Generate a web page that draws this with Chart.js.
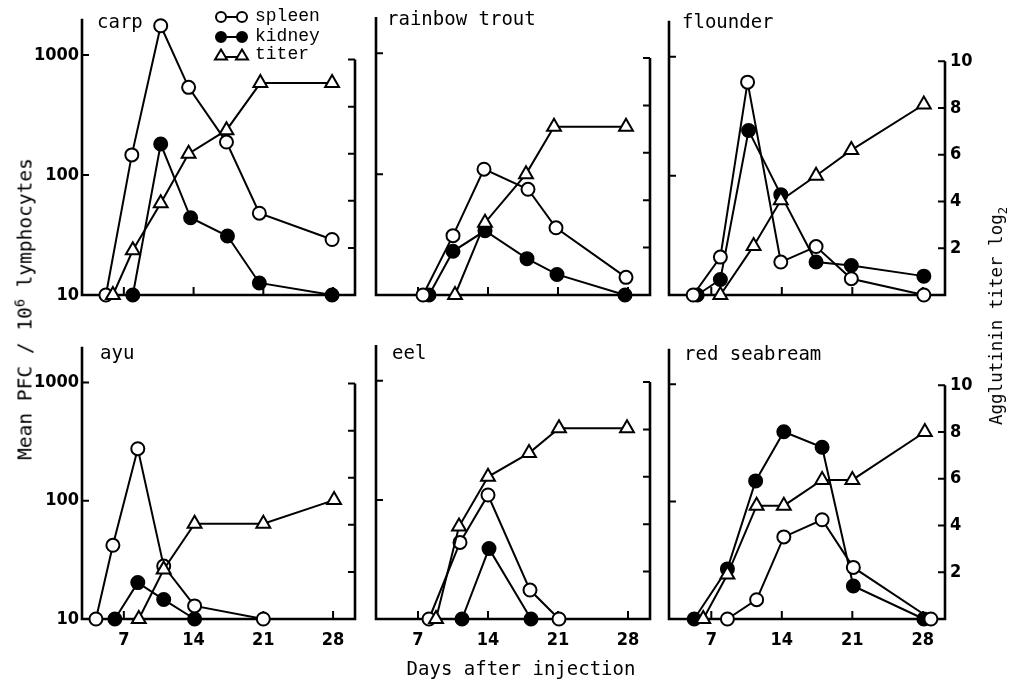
<!DOCTYPE html>
<html>
<head>
<meta charset="utf-8">
<script src="https://cdn.jsdelivr.net/npm/chart.js@4/dist/chart.umd.min.js"></script>
<style>
  html, body { margin: 0; padding: 0; background: #fff; }
  #wrap { position: relative; width: 1013px; height: 686px; overflow: hidden; background: #fff; }
  canvas { position: absolute; }
  .txt { position: absolute; white-space: nowrap; color: #000; font-family: 'DejaVu Sans Mono', monospace; }
  .ptitle { font-size: 19px; line-height: 20px; }
  .leg { font-family: 'Liberation Mono', 'DejaVu Sans Mono', monospace; font-size: 18px; line-height: 20px; }
  .vt { transform: translate(-50%, -50%) rotate(-90deg); transform-origin: 50% 50%; }
  sup, sub { font-size: 70%; line-height: 0; }
</style>
</head>
<body>
<div id="wrap"></div>
<script>
// ---------- data ----------
const DAY_TICKS = [7, 14, 21, 28];
const PFC_TICKS = [10, 100, 1000];
const TITER_TICKS = [2, 4, 6, 8, 10];
const PANEL_NAMES = ['carp', 'rainbow trout', 'flounder', 'ayu', 'eel', 'red seabream'];
const SERIES_NAMES = ['spleen', 'kidney', 'titer'];
const X_TITLE = 'Days after injection';

// [day, PFC per 10^6 lymphocytes]  /  [day, titer log2]
const carpSpleen = [[5.2,10],[7.8,147],[10.7,1750],[13.5,537],[17.3,188],[20.6,48],[27.9,29]];
const carpKidney = [[7.9,10],[10.7,181],[13.7,44],[17.4,31],[20.6,12.6],[27.9,10]];
const carpTiter  = [[5.9,0],[7.9,1.9],[10.7,3.9],[13.5,6.0],[17.3,7.0],[20.7,9.0],[27.9,9.0]];

const troutSpleen = [[7.5,10],[10.5,31],[13.6,110],[18.0,75],[20.8,36],[27.8,14]];
const troutKidney = [[8.1,10],[10.5,23],[13.7,34],[17.9,20],[20.9,14.8],[27.7,10]];
const troutTiter  = [[10.7,0],[13.7,3.05],[17.8,5.1],[20.6,7.1],[27.8,7.1]];

const flounderSpleen = [[5.2,10],[7.9,20.8],[10.6,611],[13.9,18.9],[17.4,25.5],[20.9,13.7],[28.1,10]];
const flounderKidney = [[5.6,10],[7.9,13.5],[10.7,240],[13.9,69.5],[17.4,18.9],[20.9,17.7],[28.1,14.4]];
const flounderTiter  = [[7.9,0],[11.2,2.1],[13.9,4.05],[17.4,5.1],[20.9,6.2],[28.1,8.15]];

const ayuSpleen = [[4.2,10],[5.9,42],[8.4,275],[11.0,28],[14.1,12.9],[21.0,10]];
const ayuKidney = [[6.1,10],[8.4,20.3],[11.0,14.6],[14.1,10]];
const ayuTiter  = [[8.5,0],[11.0,2.1],[14.1,4.05],[21.0,4.05],[28.1,5.05]];

const eelSpleen = [[8.1,10],[11.2,44],[14.0,110],[18.2,17.5],[21.1,10]];
const eelKidney = [[11.4,10],[14.1,39],[18.3,10]];
const eelTiter  = [[8.8,0],[11.1,3.9],[14.0,6.0],[18.1,7.0],[21.1,8.05],[27.9,8.05]];

const seabreamSpleen = [[8.6,10],[11.5,14.6],[14.2,50],[18.0,70],[21.1,27.5],[28.8,10]];
const seabreamKidney = [[5.3,10],[8.6,26.7],[11.4,150],[14.2,393],[18.0,290],[21.1,19.1],[28.1,10]];
const seabreamTiter  = [[6.2,0],[8.6,1.9],[11.5,4.85],[14.2,4.85],[18.0,5.95],[21.0,5.95],[28.2,8.0]];

// ---------- layout ----------
const COLS = [{l: 82, r: 355}, {l: 376, r: 650}, {l: 669, r: 945}];
const ROWS = [{t: 17, b: 295, y2max: 11.73}, {t: 345, b: 619, y2max: 11.56}];
const PAD_L = 70, PAD_R = 60, PAD_T = 12, PAD_B = 50;
const X_MIN = 2.8, X_MAX = 30.2, Y_MIN = 10, Y_MAX = 2000;

const panels = [
  {row: 0, col: 0, spleen: carpSpleen, kidney: carpKidney, titer: carpTiter},
  {row: 0, col: 1, spleen: troutSpleen, kidney: troutKidney, titer: troutTiter},
  {row: 0, col: 2, spleen: flounderSpleen, kidney: flounderKidney, titer: flounderTiter},
  {row: 1, col: 0, spleen: ayuSpleen, kidney: ayuKidney, titer: ayuTiter},
  {row: 1, col: 1, spleen: eelSpleen, kidney: eelKidney, titer: eelTiter},
  {row: 1, col: 2, spleen: seabreamSpleen, kidney: seabreamKidney, titer: seabreamTiter}
];

const TICK_FONT = {family: "'Liberation Sans Narrow', 'DejaVu Sans Condensed', 'Arial Narrow', sans-serif", size: 18, weight: 'bold'};

const framePlugin = {
  id: 'frame',
  beforeDatasetsDraw(chart) {
    const {ctx, chartArea: a, scales: {x, y, y2}} = chart;
    ctx.save();
    ctx.strokeStyle = '#000';
    ctx.lineJoin = 'miter';
    ctx.lineWidth = 2.6;
    ctx.beginPath();
    ctx.moveTo(a.left, a.top);
    ctx.lineTo(a.left, a.bottom);
    ctx.lineTo(a.right, a.bottom);
    ctx.lineTo(a.right, y2.getPixelForValue(10));
    ctx.stroke();
    ctx.lineWidth = 2;
    ctx.beginPath();
    PFC_TICKS.slice(1).forEach(v => { const p = y.getPixelForValue(v); ctx.moveTo(a.left, p); ctx.lineTo(a.left + 7, p); });
    TITER_TICKS.forEach(v => { const p = y2.getPixelForValue(v); ctx.moveTo(a.right, p); ctx.lineTo(a.right - 7, p); });
    DAY_TICKS.forEach(v => { const p = x.getPixelForValue(v); ctx.moveTo(p, a.bottom); ctx.lineTo(p, a.bottom - 8); });
    ctx.stroke();
    ctx.restore();
  }
};

const wrap = document.getElementById('wrap');

function toXY(arr) { return arr.map(([d, v]) => ({x: d, y: v})); }

panels.forEach((p, i) => {
  const C = COLS[p.col], R = ROWS[p.row];
  const w = (C.r - C.l) + PAD_L + PAD_R;
  const h = (R.b - R.t) + PAD_T + PAD_B;
  const cv = document.createElement('canvas');
  cv.width = w; cv.height = h;
  cv.style.left = (C.l - PAD_L) + 'px';
  cv.style.top = (R.t - PAD_T) + 'px';
  cv.style.width = w + 'px'; cv.style.height = h + 'px';
  wrap.appendChild(cv);

  const common = {showLine: true, borderColor: '#000', borderWidth: 2, tension: 0, clip: false,
                  pointBorderColor: '#000', pointBorderWidth: 2};
  new Chart(cv.getContext('2d'), {
    type: 'scatter',
    data: {
      datasets: [
        Object.assign({label: SERIES_NAMES[2], data: toXY(p.titer), yAxisID: 'y2',
          pointStyle: 'triangle', pointRadius: 8, pointBackgroundColor: '#fff'}, common),
        Object.assign({label: SERIES_NAMES[0], data: toXY(p.spleen), yAxisID: 'y',
          pointStyle: 'circle', pointRadius: 6.5, pointBackgroundColor: '#fff'}, common),
        Object.assign({label: SERIES_NAMES[1], data: toXY(p.kidney), yAxisID: 'y',
          pointStyle: 'circle', pointRadius: 6.5, pointBackgroundColor: '#000'}, common)
      ]
    },
    options: {
      responsive: false, animation: false, devicePixelRatio: 1,
      layout: {padding: {top: PAD_T, left: 0, right: 0, bottom: 0}},
      plugins: {legend: {display: false}, tooltip: {enabled: false}, title: {display: false}},
      scales: {
        x: {
          type: 'linear', position: 'bottom', min: X_MIN, max: X_MAX,
          grid: {display: false, drawTicks: false}, border: {display: false},
          afterBuildTicks: s => { s.ticks = DAY_TICKS.map(v => ({value: v})); },
          afterFit: s => { s.height = PAD_B; },
          ticks: {display: p.row === 1, autoSkip: false, maxRotation: 0, padding: 11, color: '#000', font: TICK_FONT,
                  callback: v => String(v)}
        },
        y: {
          type: 'logarithmic', position: 'left', min: Y_MIN, max: Y_MAX,
          grid: {display: false, drawTicks: false}, border: {display: false},
          afterBuildTicks: s => { s.ticks = PFC_TICKS.map(v => ({value: v})); },
          afterFit: s => { s.width = PAD_L; },
          ticks: {display: p.col === 0, autoSkip: false, padding: 3, color: '#000', font: TICK_FONT,
                  callback: v => String(v)}
        },
        y2: {
          type: 'linear', position: 'right', min: 0, max: R.y2max,
          grid: {display: false, drawTicks: false}, border: {display: false},
          afterBuildTicks: s => { s.ticks = TITER_TICKS.map(v => ({value: v})); },
          afterFit: s => { s.width = PAD_R; },
          ticks: {display: p.col === 2, autoSkip: false, padding: 5, color: '#000', font: TICK_FONT,
                  callback: v => String(v)}
        }
      }
    },
    plugins: [framePlugin]
  });
});

// ---------- text ----------
function addText(html, cls, style) {
  const d = document.createElement('div');
  d.className = 'txt ' + cls;
  d.innerHTML = html;
  Object.assign(d.style, style);
  wrap.appendChild(d);
  return d;
}
const TITLE_POS = [[97, 11], [387, 8], [682, 11], [100, 342], [392, 342], [684, 343]];
PANEL_NAMES.forEach((n, i) => addText(n, 'ptitle', {left: TITLE_POS[i][0] + 'px', top: TITLE_POS[i][1] + 'px'}));

addText(X_TITLE, 'ptitle', {left: '521px', top: '668px', transform: 'translate(-50%,-50%)', fontSize: '19px'});
addText('Mean PFC / 10<sup>6</sup> lymphocytes', 'vt', {left: '25px', top: '309px', fontSize: '19.5px'});
addText('Agglutinin titer log<sub>2</sub>', 'vt', {left: '996px', top: '316px', fontSize: '17.5px'});

// legend
const LEG_Y = [17, 37, 55];
SERIES_NAMES.forEach((n, i) => {
  const cy = LEG_Y[i];
  let mk;
  if (i === 2) {
    const tri = cx => `<polygon points="${cx},1.5 ${cx+6},11.5 ${cx-6},11.5" fill="#fff" stroke="#000" stroke-width="2"/>`;
    mk = `<line x1="8" y1="9" x2="29" y2="9" stroke="#000" stroke-width="2"/>` + tri(8) + tri(29);
  } else {
    const f = i === 0 ? '#fff' : '#000';
    mk = `<line x1="8" y1="7" x2="29" y2="7" stroke="#000" stroke-width="2"/>` +
         `<circle cx="8" cy="7" r="5" fill="${f}" stroke="#000" stroke-width="2"/>` +
         `<circle cx="29" cy="7" r="5" fill="${f}" stroke="#000" stroke-width="2"/>`;
  }
  const s = document.createElementNS ? null : null;
  const svgWrap = document.createElement('div');
  svgWrap.style.position = 'absolute';
  svgWrap.style.left = '213px';
  svgWrap.style.top = (cy - 7) + 'px';
  svgWrap.innerHTML = `<svg width="38" height="14" xmlns="http://www.w3.org/2000/svg">${mk}</svg>`;
  wrap.appendChild(svgWrap);
  addText(n, 'leg', {left: '255px', top: (cy - 11) + 'px'});
});
</script>
</body>
</html>
